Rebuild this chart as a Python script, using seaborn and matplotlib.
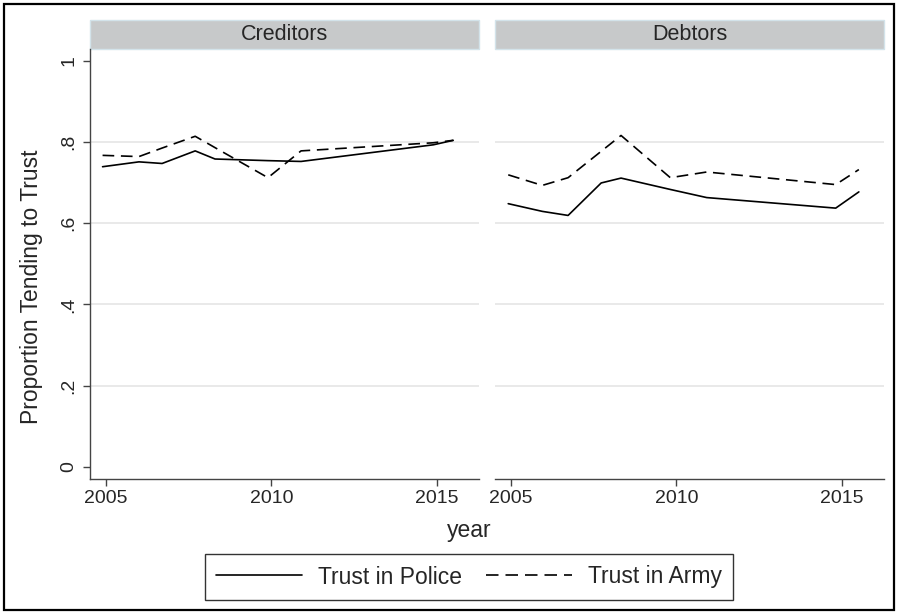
import matplotlib
matplotlib.use("Agg")
import matplotlib.pyplot as plt
import seaborn as sns
import pandas as pd
from matplotlib.patches import Rectangle
from matplotlib.lines import Line2D

sns.set_theme(style="white")
plt.rcParams['font.family'] = ['Liberation Sans', 'DejaVu Sans']

# ---- data -----------------------------------------------------------------
groups = ["Creditors", "Debtors"]
series = ["Trust in Police", "Trust in Army"]

cred_years = [2004.9, 2006.0, 2006.7, 2007.7, 2008.3, 2009.9, 2010.9, 2014.9, 2015.5]
cred_police = [0.739, 0.751, 0.747, 0.778, 0.758, 0.754, 0.752, 0.793, 0.804]
cred_army = [0.767, 0.764, 0.785, 0.814, 0.786, 0.712, 0.778, 0.798, 0.804]

debt_years = [2004.92, 2005.95, 2006.73, 2007.73, 2008.33, 2009.82, 2010.92, 2014.82, 2015.52]
debt_police = [0.648, 0.629, 0.619, 0.699, 0.711, 0.683, 0.663, 0.637, 0.677]
debt_army = [0.719, 0.693, 0.712, 0.777, 0.816, 0.712, 0.726, 0.695, 0.732]

y_ticks = [0, 0.2, 0.4, 0.6, 0.8, 1.0]
y_tick_labels = ["0", ".2", ".4", ".6", ".8", "1"]
x_ticks = [2005, 2010, 2015]

rows = []
for grp, yrs, pol, arm in [("Creditors", cred_years, cred_police, cred_army),
                           ("Debtors", debt_years, debt_police, debt_army)]:
    for yr, p, a in zip(yrs, pol, arm):
        rows.append({"group": grp, "year": yr, "series": "Trust in Police", "value": p})
        rows.append({"group": grp, "year": yr, "series": "Trust in Army", "value": a})
df = pd.DataFrame(rows)

# ---- figure -----------------------------------------------------------------
W, H = 898, 614
fig = plt.figure(figsize=(W / 100, H / 100), dpi=100)
fig.patch.set_facecolor("white")

panel_lefts = [90, 495]
panel_w = 389
top_px, bottom_px = 49, 479.3
strip_h = 29

dash_map = {"Trust in Police": "", "Trust in Army": (7, 4)}
axes = []
for i, (grp, left) in enumerate(zip(groups, panel_lefts)):
    ax = fig.add_axes([left / W, 1 - bottom_px / H, panel_w / W, (bottom_px - top_px) / H])
    axes.append(ax)
    sub = df[df["group"] == grp]
    for yv in [0.2, 0.4, 0.6, 0.8]:
        ax.axhline(yv, color="#e3e3e3", lw=1.1, zorder=0)
    sns.lineplot(data=sub, x="year", y="value", style="series", style_order=series,
                 dashes=dash_map, color="black", lw=1.2, legend=False,
                 errorbar=None, ax=ax)
    ax.set_xlim(2004.52, 2016.28)
    ax.set_ylim(-0.031, 1.029)
    ax.set_xticks(x_ticks)
    ax.set_xticklabels([str(t) for t in x_ticks], fontsize=14)
    ax.set_xlabel("")
    ax.set_ylabel("")
    for s in ["top", "right"]:
        ax.spines[s].set_visible(False)
    ax.spines["bottom"].set_color("#444444")
    ax.spines["bottom"].set_linewidth(1.0)
    ax.tick_params(axis="x", direction="out", length=5, width=1.0, color="#444444",
                   bottom=True, pad=3)
    if i == 0:
        ax.spines["left"].set_color("#444444")
        ax.spines["left"].set_linewidth(1.0)
        ax.set_yticks(y_ticks)
        ax.set_yticklabels(y_tick_labels, fontsize=14, rotation=90, va="center")
        ax.tick_params(axis="y", direction="out", length=5, width=1.0, color="#444444",
                       left=True, pad=4)
    else:
        ax.spines["left"].set_visible(False)
        ax.set_yticks([])
    ax.grid(False)
    # facet strip
    frac = strip_h / (bottom_px - top_px)
    ax.add_patch(Rectangle((0, 1.0), 1, frac, transform=ax.transAxes, clip_on=False,
                           facecolor="#c7c9ca", edgecolor="#d3e3ea", lw=1.0))
    ax.text(0.5, 1.0 + frac / 2, grp, transform=ax.transAxes, ha="center",
            va="center", fontsize=15.5)

fig.text(32 / W, 1 - 287 / H, "Proportion Tending to Trust", rotation=90,
         ha="center", va="center", fontsize=16.5)
fig.text(469 / W, 1 - 531 / H, "year", ha="center", va="center", fontsize=16.5)

handles = [Line2D([], [], color="black", lw=1.2),
           Line2D([], [], color="black", lw=1.2, dashes=(7.5, 4.2))]
leg = fig.legend(handles, series, loc="center", bbox_to_anchor=(469 / W, 1 - 577 / H),
                 ncol=2, frameon=True, fancybox=False, fontsize=16.5, handlelength=3.75,
                 handletextpad=0.7, columnspacing=1.05, borderpad=0.5)
leg.get_frame().set_edgecolor("black")
leg.get_frame().set_linewidth(1.0)

fig.add_artist(Rectangle((4 / W, 4 / H), 890 / W, 606 / H, transform=fig.transFigure,
                         fill=False, edgecolor="black", lw=1.6))

fig.savefig("out.png", dpi=100)
